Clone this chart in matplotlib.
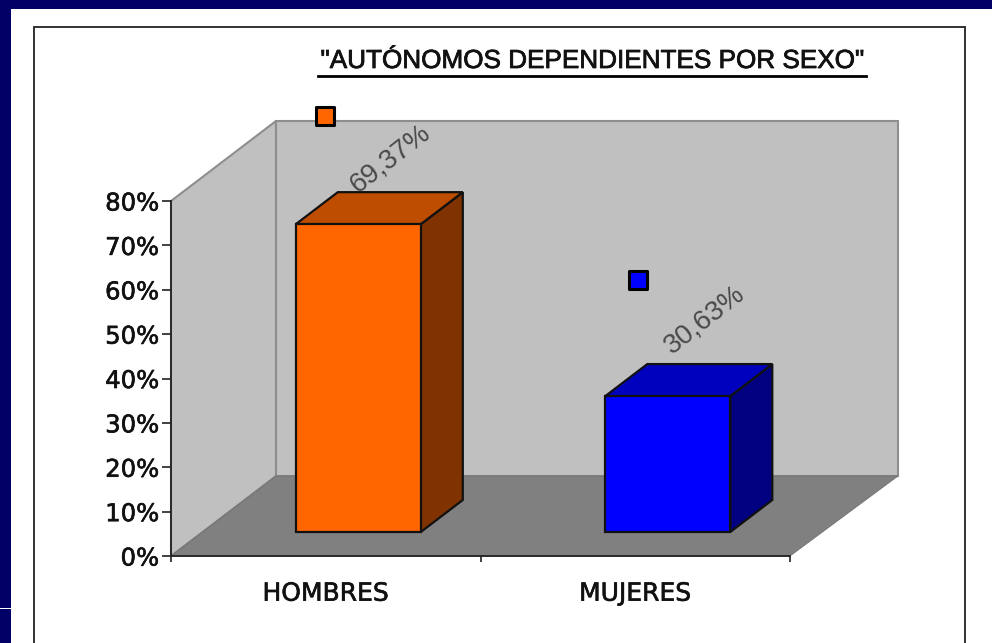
import matplotlib
matplotlib.use("Agg")
import matplotlib.pyplot as plt
import matplotlib.patheffects as pe
from matplotlib.patches import Polygon, Rectangle

# Data
categories = ["HOMBRES", "MUJERES"]
values = [69.37, 30.63]
value_labels = ["69,37%", "30,63%"]
y_ticks = [0, 10, 20, 30, 40, 50, 60, 70, 80]
y_tick_labels = ["0%", "10%", "20%", "30%", "40%", "50%", "60%", "70%", "80%"]

front_colors = ["#FF6600", "#0000FF"]
top_colors = ["#BF4D00", "#0000BF"]
side_colors = ["#803300", "#000080"]

W, H = 992, 643
navy = "#000066"
x0_px, x1_px, y0_px, y1_px = 171, 790, 556, 201

# depth of the floor, in data units of the front plane
x_scale = (x1_px - x0_px) / 2
y_scale = (y0_px - y1_px) / 80
depth_x = 105 / x_scale
depth_x_right = 108 / x_scale
depth_y = 80 / y_scale
bar_width = 125 / x_scale

# where the labels sit relative to the top of each bar (pixels)
label_offsets = [(65, 89), (69, 100)]
key_offsets = [(-1, 132), (3, 140)]

heavy = [pe.withStroke(linewidth=0.45, foreground="#111111")]
light = [pe.withStroke(linewidth=0.55, foreground="#111111")]

fig = plt.figure(figsize=(W / 100, H / 100), dpi=100, facecolor="white")

# Slide background
bg = fig.add_axes([0, 0, 1, 1], zorder=-1)
bg.set_xlim(0, W)
bg.set_ylim(H, 0)
bg.axis("off")
bg.add_patch(Rectangle((0, 0), 11, H, color=navy, lw=0))
bg.add_patch(Rectangle((0, 0), W, 9, color=navy, lw=0))
bg.add_patch(Rectangle((0, 607.5), 11, 1.5, color="white", lw=0))
bg.add_patch(Rectangle((34, 27), 931, H, facecolor="white", edgecolor="#222222", lw=1.3))

ax = fig.add_axes([x0_px / W, 1 - y0_px / H, (x1_px - x0_px) / W, (y0_px - y1_px) / H])
ax.set_xlim(0, 2)
ax.set_ylim(0, 80)
ax.patch.set_alpha(0)


def add_poly(points, face, edge, lw, z):
    ax.add_patch(Polygon(points, closed=True, facecolor=face, edgecolor=edge, lw=lw,
                         joinstyle="miter", clip_on=False, zorder=z))


# Walls and floor
wall = "#C0C0C0"
wall_edge = "#8E8E8E"
add_poly([(0, 0), (depth_x, depth_y), (depth_x, 80 + depth_y), (0, 80)], wall, wall_edge, 1.5, 1)
add_poly([(depth_x, depth_y), (2 + depth_x_right, depth_y), (2 + depth_x_right, 80 + depth_y), (depth_x, 80 + depth_y)],
         wall, wall_edge, 1.5, 1)
add_poly([(0, 0), (2, 0), (2 + depth_x_right, depth_y), (depth_x, depth_y)], "#808080", "#707070", 0.6, 2)

# Bars
for i, (val, lab) in enumerate(zip(values, value_labels)):
    left = i + 0.5 - bar_width / 2 + 0.31 * depth_x
    right = left + bar_width
    base = 0.3 * depth_y
    top = base + val
    dx = 0.4 * depth_x
    dy = 0.4 * depth_y
    add_poly([(right, base), (right + dx, base + dy), (right + dx, top + dy), (right, top)],
             side_colors[i], "#111111", 1.6, 3)
    add_poly([(left, top), (right, top), (right + dx, top + dy), (left + dx, top + dy)],
             top_colors[i], "#111111", 1.6, 3)
    add_poly([(left, base), (right, base), (right, top), (left, top)],
             front_colors[i], "#111111", 1.6, 4)

    # Rotated value label with its legend key above the bar
    ax.annotate(lab, xy=(i + 0.5, val), xytext=label_offsets[i], textcoords="offset pixels",
                rotation=38, ha="center", va="center", color="#4A4A4A", fontsize=20,
                family="Liberation Sans", annotation_clip=False, zorder=5)
    key_x = i + 0.5 + key_offsets[i][0] / x_scale
    key_y = val + key_offsets[i][1] / y_scale
    ax.scatter([key_x], [key_y], marker="s", s=150, c=front_colors[i], edgecolors="black", linewidths=2.2,
               clip_on=False, zorder=6)

# Axes
for side in ["top", "right"]:
    ax.spines[side].set_visible(False)
for side in ["left", "bottom"]:
    ax.spines[side].set_color("#222222")
    ax.spines[side].set_linewidth(1.3)
    ax.spines[side].set_zorder(7)
ax.set_yticks(y_ticks)
ax.set_yticklabels(y_tick_labels, fontsize=17.5, family="DejaVu Sans", color="#111111", path_effects=heavy)
ax.tick_params(axis="y", length=6.5, width=1.2, color="#222222", pad=2)
ax.set_xticks([0, 1, 2])
ax.set_xticklabels([])
ax.tick_params(axis="x", length=4.5, width=1.2, color="#222222")
ax.set_xticks([0.5, 1.5], minor=True)
ax.set_xticklabels(categories, minor=True, fontsize=18, family="DejaVu Sans", color="#111111", path_effects=heavy)
ax.tick_params(axis="x", which="minor", length=0, pad=18.5)

# Title
fig.text(592 / W, 1 - 61 / H, '"AUTÓNOMOS DEPENDIENTES POR SEXO"', ha="center", va="center",
         fontsize=18.8, family="Liberation Sans", color="#111111", path_effects=light)
bg.plot([318, 866], [75.5, 75.5], color="black", lw=2)

fig.savefig("out.png", dpi=100)
